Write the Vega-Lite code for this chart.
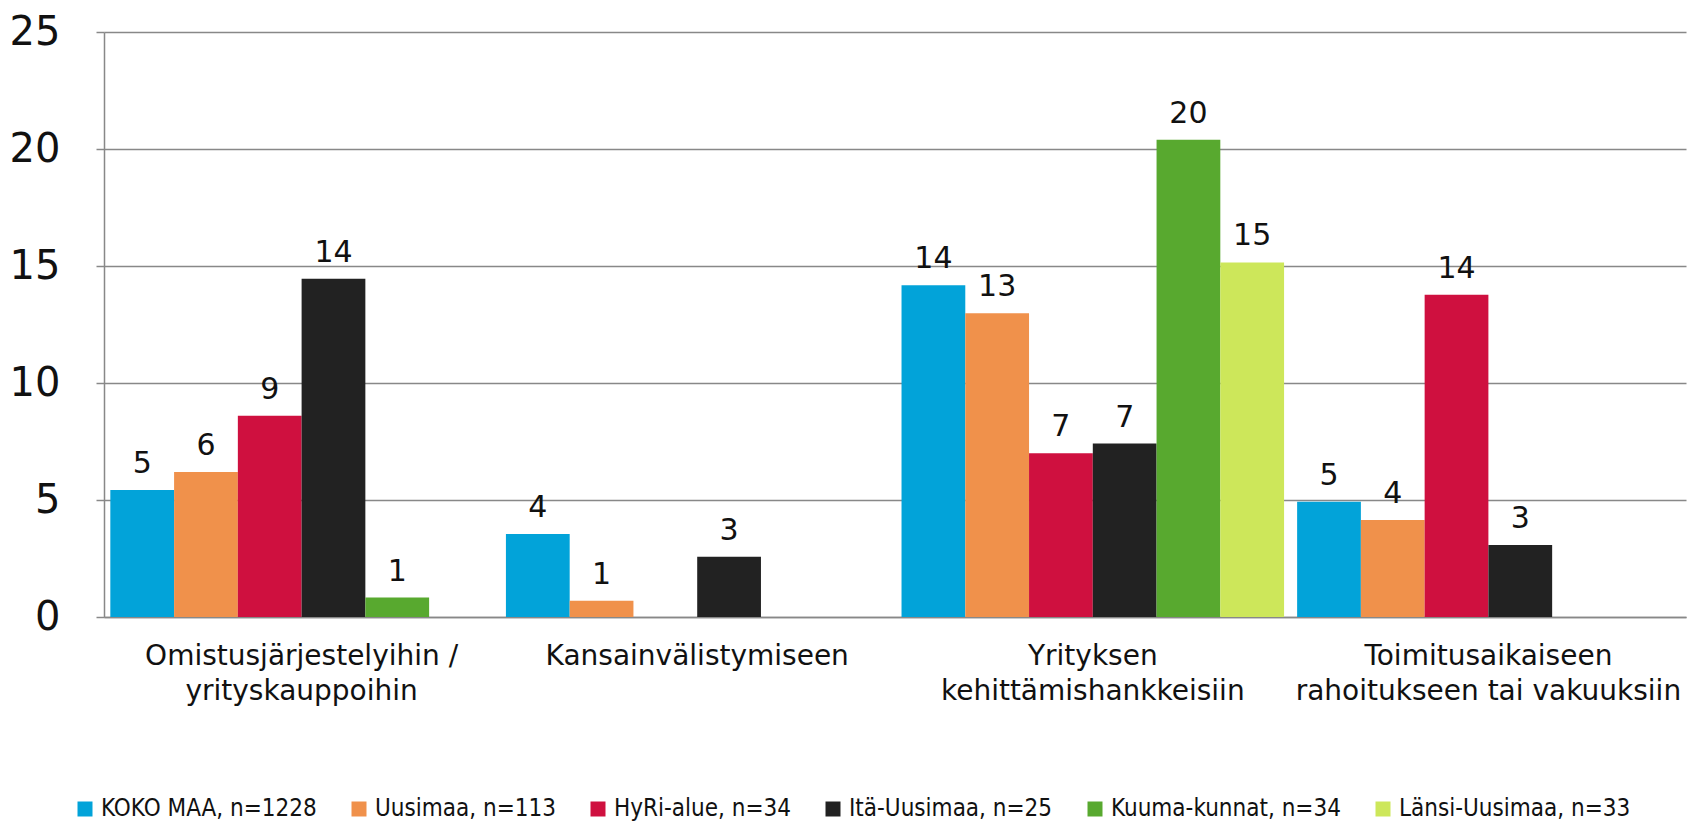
{
  "$schema": "https://vega.github.io/schema/vega-lite/v6.json",
  "autosize": {"type": "none"},
  "width": 1582,
  "height": 585,
  "padding": {"left": 104, "top": 32, "right": 2, "bottom": 206},
  "background": "white",
  "config": {"view": {"stroke": null}},
  "data": {"values": [
    {"cat": "Omistusjärjestelyihin / yrityskauppoihin", "group": "KOKO MAA, n=1228", "value": 5.43},
    {"cat": "Omistusjärjestelyihin / yrityskauppoihin", "group": "Uusimaa, n=113", "value": 6.2},
    {"cat": "Omistusjärjestelyihin / yrityskauppoihin", "group": "HyRi-alue, n=34", "value": 8.6},
    {"cat": "Omistusjärjestelyihin / yrityskauppoihin", "group": "Itä-Uusimaa, n=25", "value": 14.45},
    {"cat": "Omistusjärjestelyihin / yrityskauppoihin", "group": "Kuuma-kunnat, n=34", "value": 0.83},
    {"cat": "Kansainvälistymiseen", "group": "KOKO MAA, n=1228", "value": 3.55},
    {"cat": "Kansainvälistymiseen", "group": "Uusimaa, n=113", "value": 0.69},
    {"cat": "Kansainvälistymiseen", "group": "Itä-Uusimaa, n=25", "value": 2.58},
    {"cat": "Yrityksen kehittämishankkeisiin", "group": "KOKO MAA, n=1228", "value": 14.18},
    {"cat": "Yrityksen kehittämishankkeisiin", "group": "Uusimaa, n=113", "value": 12.98},
    {"cat": "Yrityksen kehittämishankkeisiin", "group": "HyRi-alue, n=34", "value": 7.0},
    {"cat": "Yrityksen kehittämishankkeisiin", "group": "Itä-Uusimaa, n=25", "value": 7.41},
    {"cat": "Yrityksen kehittämishankkeisiin", "group": "Kuuma-kunnat, n=34", "value": 20.4},
    {"cat": "Yrityksen kehittämishankkeisiin", "group": "Länsi-Uusimaa, n=33", "value": 15.15},
    {"cat": "Toimitusaikaiseen rahoitukseen tai vakuuksiin", "group": "KOKO MAA, n=1228", "value": 4.93},
    {"cat": "Toimitusaikaiseen rahoitukseen tai vakuuksiin", "group": "Uusimaa, n=113", "value": 4.14},
    {"cat": "Toimitusaikaiseen rahoitukseen tai vakuuksiin", "group": "HyRi-alue, n=34", "value": 13.77},
    {"cat": "Toimitusaikaiseen rahoitukseen tai vakuuksiin", "group": "Itä-Uusimaa, n=25", "value": 3.08}
  ]},
  "encoding": {
    "x": {
      "field": "cat", "type": "nominal", "sort": null,
      "scale": {"paddingInner": 0.033, "paddingOuter": 0.016},
      "axis": {
        "title": null, "labelAngle": 0, "ticks": false, "grid": false,
        "domainColor": "#888888", "domainWidth": 1.5,
        "labelFont": "DejaVu Sans", "labelFontSize": 28, "labelColor": "#111111",
        "labelPadding": 25, "labelLineHeight": 35, "labelBaseline": "top", "labelLimit": 0,
        "labelExpr": "datum.value == 'Omistusjärjestelyihin / yrityskauppoihin' ? ['Omistusjärjestelyihin /', 'yrityskauppoihin'] : datum.value == 'Yrityksen kehittämishankkeisiin' ? ['Yrityksen', 'kehittämishankkeisiin'] : datum.value == 'Toimitusaikaiseen rahoitukseen tai vakuuksiin' ? ['Toimitusaikaiseen', 'rahoitukseen tai vakuuksiin'] : datum.value"
      }
    },
    "xOffset": {
      "field": "group", "type": "nominal",
      "scale": {"domain": ["KOKO MAA, n=1228", "Uusimaa, n=113", "HyRi-alue, n=34", "Itä-Uusimaa, n=25", "Kuuma-kunnat, n=34", "Länsi-Uusimaa, n=33"], "paddingInner": 0, "paddingOuter": 0}
    },
    "y": {
      "field": "value", "type": "quantitative",
      "scale": {"domain": [0, 25], "nice": false},
      "axis": {
        "title": null, "values": [0, 5, 10, 15, 20, 25],
        "grid": true, "gridColor": "#888888", "gridWidth": 1.5,
        "domainColor": "#888888", "domainWidth": 1.5,
        "tickColor": "#888888", "tickSize": 8, "tickWidth": 1.5,
        "labelFont": "DejaVu Sans", "labelFontSize": 40, "labelColor": "#111111",
        "labelPadding": 36
      }
    }
  },
  "layer": [
    {
      "mark": {"type": "bar"},
      "encoding": {
        "color": {
          "field": "group", "type": "nominal",
          "scale": {
            "domain": ["KOKO MAA, n=1228", "Uusimaa, n=113", "HyRi-alue, n=34", "Itä-Uusimaa, n=25", "Kuuma-kunnat, n=34", "Länsi-Uusimaa, n=33"],
            "range": ["#02A3D9", "#F0914B", "#CF103F", "#222222", "#58A92F", "#CDE75A"]
          },
          "legend": {
            "title": null, "orient": "none", "direction": "horizontal",
            "legendX": -31, "legendY": 765,
            "symbolType": "square", "symbolSize": 225, "symbolStrokeWidth": 0,
            "labelFont": "DejaVu Sans Condensed", "labelFontSize": 24, "labelColor": "#111111",
            "labelOffset": 4, "columnPadding": 30, "labelLimit": 400
          }
        }
      }
    },
    {
      "mark": {"type": "text", "baseline": "alphabetic", "dy": -17, "font": "DejaVu Sans", "fontSize": 30, "color": "#111111"},
      "encoding": {
        "text": {"field": "value", "type": "quantitative", "format": ".0f"}
      }
    }
  ]
}
